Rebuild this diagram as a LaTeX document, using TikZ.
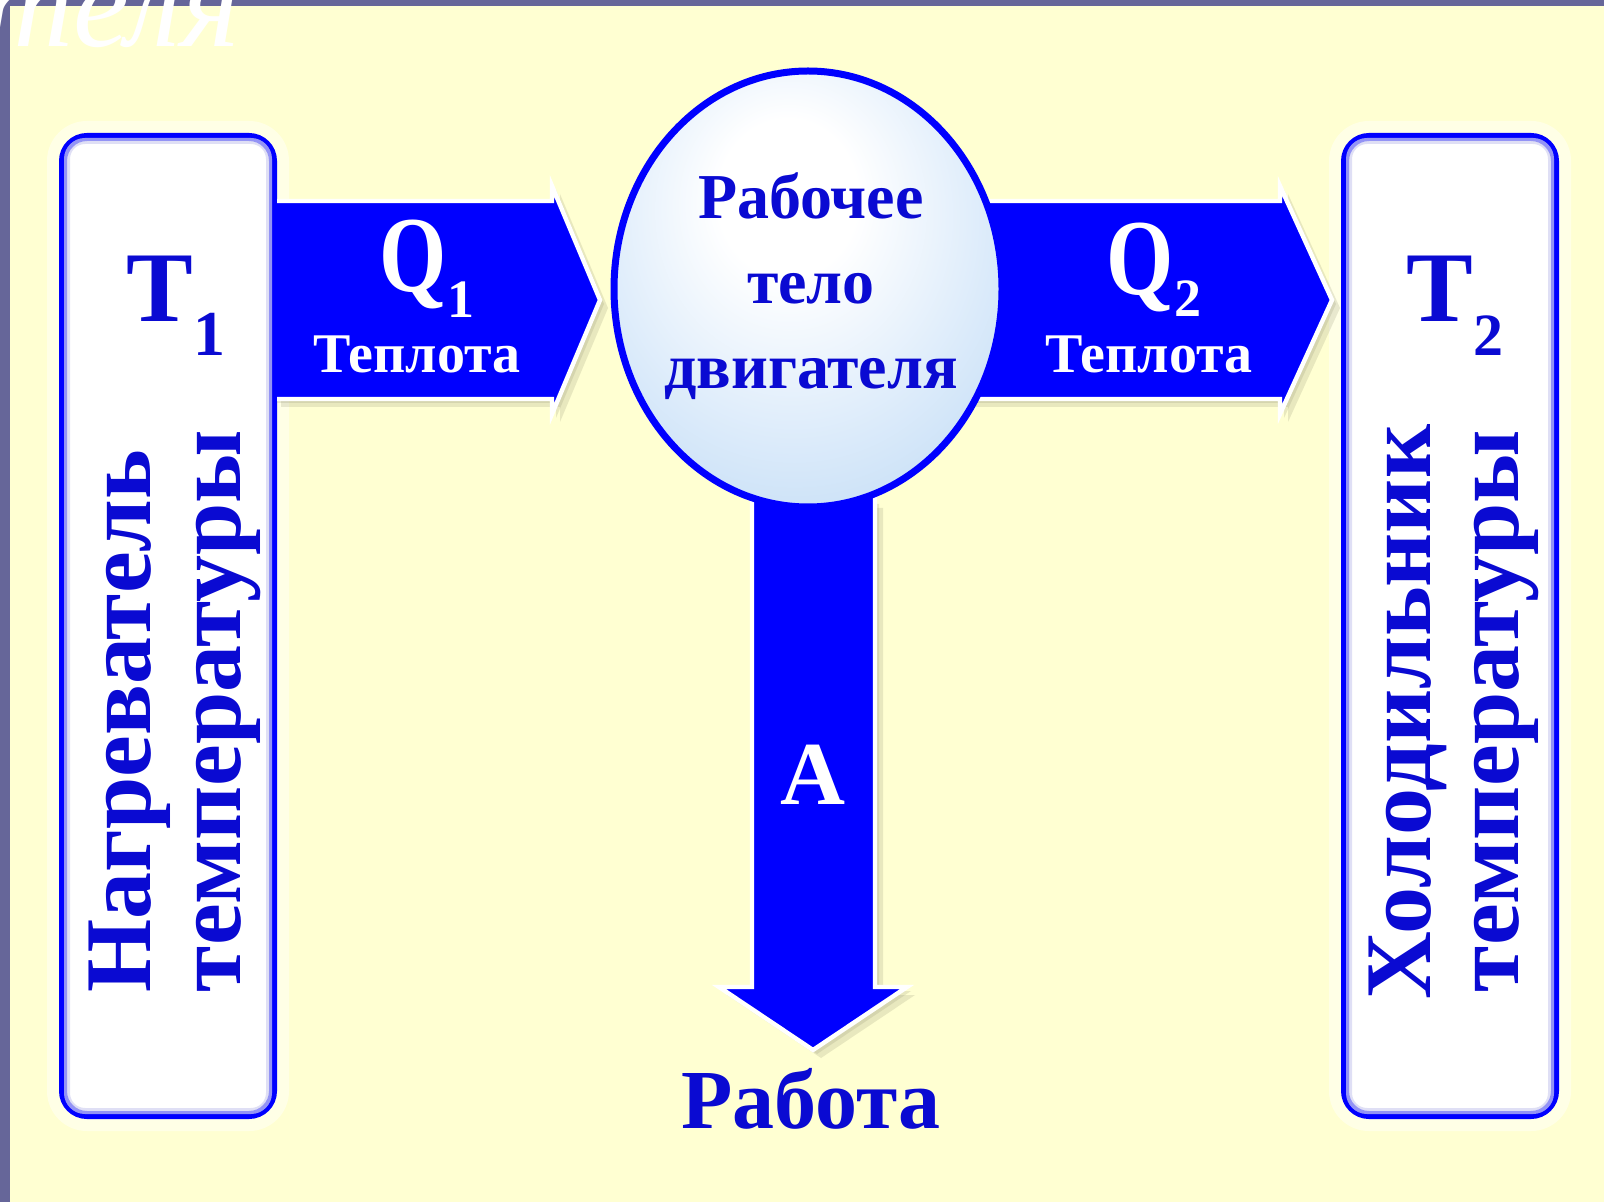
\documentclass[tikz,border=0pt]{standalone}
\usepackage{fontspec}
\setmainfont{Liberation Serif}
\usetikzlibrary{shapes.geometric}
\definecolor{bg}{RGB}{255,255,210}
\definecolor{frame}{RGB}{102,102,153}
\definecolor{arrblue}{RGB}{0,0,255}
\definecolor{txtblue}{RGB}{10,10,210}
\definecolor{lb1}{RGB}{218,234,250}
\definecolor{lb2}{RGB}{182,213,243}
\definecolor{lb3}{RGB}{160,192,230}
\definecolor{lb4}{RGB}{145,178,222}
\definecolor{shadowc}{RGB}{140,140,110}
\definecolor{glowc}{RGB}{210,210,242}
\pgfdeclareradialshading{sphere}{\pgfpoint{-3bp}{12bp}}{color(0bp)=(white); color(9bp)=(white); color(26bp)=(lb1); color(43bp)=(lb2); color(54bp)=(lb3); color(70bp)=(lb4)}
\tikzset{
  tbox/.style={draw=arrblue, fill=white, line width=4pt, rounded corners=12pt,
    minimum width=105pt, minimum height=489pt, inner sep=0pt},
  vtxt/.style={text=txtblue, font=\fontsize{47pt}{47pt}\selectfont\bfseries, rotate=90, anchor=base, inner sep=0pt},
  btxt/.style={text=txtblue, font=\bfseries, inner sep=0pt},
  wtxt/.style={text=white, font=\bfseries, inner sep=0pt},
  arrfill/.style={fill=arrblue},
  arrline/.style={draw=white, line width=2.2pt, line join=miter},
  arrshadow/.style={fill=shadowc, opacity=0.2},
}
\begin{document}
\begin{tikzpicture}[x=0.5pt,y=-0.5pt]
\useasboundingbox (0,0) rectangle (1604,1202);
\clip (0,0) rectangle (1604,1202);
\fill[bg] (0,0) rectangle (1604,1202);
\fill[frame] (0,0) rectangle (10,1202);
\fill[frame] (0,0) rectangle (1604,6);
\node[anchor=base east, text=white, font=\fontsize{63pt}{63pt}\selectfont\itshape, inner sep=0pt] (title) at (240,47) {двигателя};

% boxes
\foreach \cx in {168,1450}{
  \draw[white, opacity=0.45, line width=8pt, rounded corners=16pt] (\cx-113,129) rectangle (\cx+113,1123);
}
\node[tbox] (hot) at (168,626) {};
\node[tbox] (cold) at (1450,626) {};
\draw[glowc, line width=3pt, rounded corners=9pt, opacity=0.7] ([shift={(8,8)}]hot.north west) rectangle ([shift={(-8,-8)}]hot.south east);
\draw[glowc, line width=3pt, rounded corners=9pt, opacity=0.7] ([shift={(8,8)}]cold.north west) rectangle ([shift={(-8,-8)}]cold.south east);

% left arrow
\foreach \s in {4,8}{
  \fill[arrshadow, shift={(\s,\s)}] (273,201) -- (552,201) -- (552,186) -- (600,300) -- (552,414) -- (552,399) -- (273,399) -- cycle;
}
\fill[arrfill] (hot.east |- 0,201) -- (552,201) -- (552,186) -- (600,300) -- (552,414) -- (552,399) -- (hot.east |- 0,399) -- cycle;
\draw[arrline] (hot.east |- 0,201) -- (552,201) -- (552,186) -- (600,300) -- (552,414) -- (552,399) -- (hot.east |- 0,399);

% right arrow
\foreach \s in {4,8}{
  \fill[arrshadow, shift={(\s,\s)}] (960,201) -- (1280,201) -- (1280,186) -- (1332,300) -- (1280,414) -- (1280,399) -- (960,399) -- cycle;
}
\fill[arrfill] (950,201) -- (1280,201) -- (1280,186) -- (1332,300) -- (1280,414) -- (1280,399) -- (950,399) -- cycle;
\draw[arrline] (950,201) -- (1280,201) -- (1280,186) -- (1332,300) -- (1280,414) -- (1280,399) -- (950,399);

% bottom arrow
\foreach \s in {4,8}{
  \fill[arrshadow, shift={(\s,\s)}] (752,500) -- (752,987) -- (719,987) -- (813,1050) -- (907,987) -- (875,987) -- (875,500) -- cycle;
}
\fill[arrfill] (752,480) -- (752,987) -- (719,987) -- (813,1050) -- (907,987) -- (875,987) -- (875,480) -- cycle;
\draw[arrline] (752,480) -- (752,987) -- (719,987) -- (813,1050) -- (907,987) -- (875,987) -- (875,480);

% working body
\node[ellipse, draw=arrblue, line width=3.5pt, shade, shading=sphere, minimum width=194pt, minimum height=218pt, inner sep=0pt] (body) at (808,289) {};
\node[btxt, align=center, font=\fontsize{32pt}{42.5pt}\selectfont\bfseries] (bodytext) at (811,286) {Рабочее\\тело\\двигателя};

% labels on boxes
\node[btxt, anchor=base, font=\fontsize{50pt}{50pt}\selectfont\bfseries] (t1) at (176,322) {T\raisebox{-17pt}{\fontsize{32pt}{32pt}\selectfont 1}};
\node[btxt, anchor=base, font=\fontsize{50pt}{50pt}\selectfont\bfseries] (t2) at (1455,322) {T\raisebox{-17pt}{\fontsize{30pt}{30pt}\selectfont 2}};
\node[vtxt] (hot1) at (150,721) {Нагреватель};
\node[vtxt] (hot2) at (240,711) {температуры};
\node[vtxt] (cold1) at (1430,712) {Холодильник};
\node[vtxt] (cold2) at (1518,711) {температуры};

% arrow labels
\node[wtxt, anchor=base, font=\fontsize{54pt}{54pt}\selectfont\bfseries] (q1) at (427,292) {\scalebox{0.8}[1]{Q}\raisebox{-13pt}{\fontsize{27pt}{27pt}\selectfont 1}};
\node[wtxt, anchor=base, font=\fontsize{28pt}{28pt}\selectfont\bfseries] (heat1) at (417,373) {Теплота};
\node[wtxt, anchor=base, font=\fontsize{54pt}{54pt}\selectfont\bfseries] (q2) at (1154,295) {\scalebox{0.8}[1]{Q}\raisebox{-11pt}{\fontsize{27pt}{27pt}\selectfont 2}};
\node[wtxt, anchor=base, font=\fontsize{28pt}{28pt}\selectfont\bfseries] (heat2) at (1149,373) {Теплота};
\node[wtxt, font=\fontsize{45pt}{45pt}\selectfont\bfseries] (work) at (813,775) {A};
\node[btxt, anchor=base, font=\fontsize{42pt}{42pt}\selectfont\bfseries] (worklabel) at (811,1128) {Работа};
\end{tikzpicture}
\end{document}
